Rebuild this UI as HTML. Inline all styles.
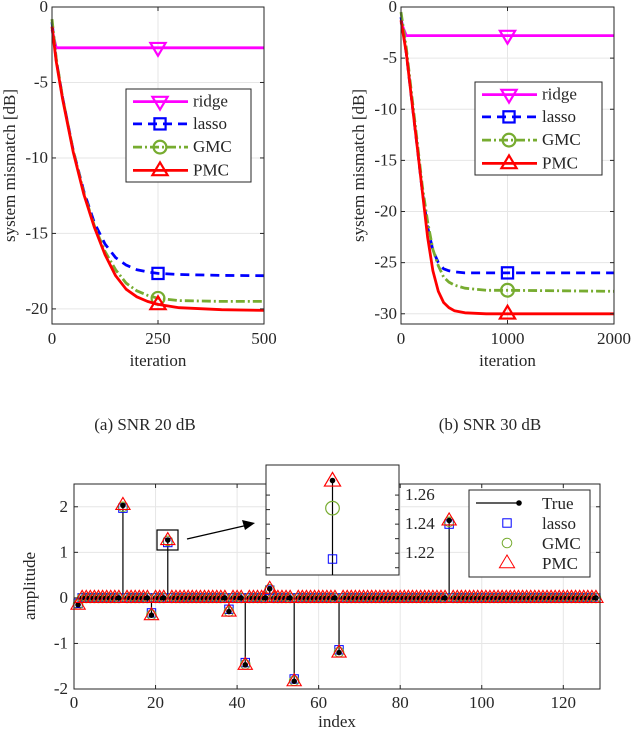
<!DOCTYPE html>
<html><head><meta charset="utf-8"><style>
body{margin:0;background:#fff}
svg{display:block;font-family:"Liberation Serif",serif}
text{fill:#262626}
</style></head><body>
<svg id="fig" width="632" height="732" viewBox="0 0 632 732">
<text x="145" y="430" font-size="17" text-anchor="middle">(a)  SNR 20 dB</text>
<text x="490" y="430" font-size="17" text-anchor="middle">(b)  SNR 30 dB</text>
</svg>
<script>
// ---- data: chart (a) SNR 20 dB ----
const itA = [0,10,25,50,75,100,125,150,175,200,225,250,300,400,500];
const ridgeA = [-1.5,-2.7,-2.7,-2.7,-2.7,-2.7,-2.7,-2.7,-2.7,-2.7,-2.7,-2.7,-2.7,-2.7,-2.7];
const lassoA = [-1,-3.5,-6,-9.5,-12.2,-14.3,-15.7,-16.6,-17.1,-17.4,-17.55,-17.65,-17.72,-17.78,-17.8];
const gmcA = [-0.8,-3.4,-6,-9.5,-12.3,-14.5,-16.2,-17.4,-18.3,-18.8,-19.1,-19.3,-19.45,-19.5,-19.5];
const pmcA = [-1.3,-3.6,-6.1,-9.6,-12.4,-14.6,-16.4,-17.8,-18.7,-19.2,-19.5,-19.7,-19.92,-20.05,-20.1];
const ticksXA = [0,250,500];
const ticksYA = [0,-5,-10,-15,-20];
// ---- data: chart (b) SNR 30 dB ----
const itB = [0,50,100,150,200,250,300,350,400,450,500,600,800,1000,2000];
const ridgeB = [-1.5,-2.8,-2.8,-2.8,-2.8,-2.8,-2.8,-2.8,-2.8,-2.8,-2.8,-2.8,-2.8,-2.8,-2.8];
const lassoB = [-1,-4.5,-9,-13.5,-18,-21.5,-23.8,-25,-25.6,-25.8,-25.9,-26,-26,-26,-26];
const gmcB = [-0.5,-4,-8.5,-13,-17.5,-21,-23.7,-25.3,-26.4,-26.9,-27.2,-27.5,-27.7,-27.7,-27.8];
const pmcB = [-1.3,-4.5,-9,-13.5,-18,-22.5,-25.8,-27.8,-28.9,-29.4,-29.7,-29.9,-30,-30,-30];
const ticksXB = [0,1000,2000];
const ticksYB = [0,-5,-10,-15,-20,-25,-30];
// ---- data: chart (c) sparse signal ----
const spikeIdx = [1,12,19,23,38,42,48,54,65,92];
const trueVals = [-0.15,2.03,-0.38,1.27,-0.3,-1.47,0.2,-1.83,-1.2,1.7];
const lassoVals = [-0.12,1.97,-0.33,1.216,-0.25,-1.42,0.17,-1.78,-1.14,1.62];
const gmcVals = [-0.14,2.0,-0.37,1.251,-0.3,-1.46,0.19,-1.82,-1.19,1.67];
const pmcVals = [-0.15,2.04,-0.38,1.2697,-0.3,-1.47,0.2,-1.83,-1.2,1.7];
const ticksXC = [0,20,40,60,80,100,120];
const ticksYC = [2,1,0,-1,-2];
const ticksInset = [1.26,1.24,1.22];

const NS='http://www.w3.org/2000/svg';
const svg=document.getElementById('fig');
function mk(tag,attrs,parent){const e=document.createElementNS(NS,tag);for(const k in attrs)e.setAttribute(k,attrs[k]);(parent||svg).appendChild(e);return e;}
function lin(d0,d1,r0,r1){return v=>r0+(v-d0)*(r1-r0)/(d1-d0);}

const COL={ridge:'#ff00ff',lasso:'#0000ff',gmc:'#77ac30',pmc:'#ff0000'};

function marker(kind,x,y,s,color,sw,parent){
  let e;
  if(kind==='tri'){e=mk('polygon',{points:`${x},${y-s} ${x-s*0.95},${y+s*0.6} ${x+s*0.95},${y+s*0.6}`},parent);}
  else if(kind==='trid'){e=mk('polygon',{points:`${x},${y+s} ${x-s*0.95},${y-s*0.6} ${x+s*0.95},${y-s*0.6}`},parent);}
  else if(kind==='sq'){e=mk('rect',{x:x-s*0.7,y:y-s*0.7,width:s*1.4,height:s*1.4},parent);}
  else {e=mk('circle',{cx:x,cy:y,r:s*0.8},parent);}
  e.setAttribute('fill','none');e.setAttribute('stroke',color);e.setAttribute('stroke-width',sw);
  return e;
}

function convChart(cfg){
  const g=mk('g',{});
  
  
  const X=lin(cfg.xlim[0],cfg.xlim[1],cfg.L,cfg.R), Y=lin(cfg.ylim[0],cfg.ylim[1],cfg.B,cfg.T);
  cfg.tx.forEach(t=>{const l=mk('line',{x1:X(t),x2:X(t),y1:cfg.T,y2:cfg.B,stroke:'#e6e6e6','stroke-width':1},g);});
  cfg.ty.forEach(t=>{const l=mk('line',{x1:cfg.L,x2:cfg.R,y1:Y(t),y2:Y(t),stroke:'#e6e6e6','stroke-width':1},g);});
  const series=[['ridge',cfg.ridge,'',2.8,'trid'],['lasso',cfg.lasso,'9,6',2.8,'sq'],['gmc',cfg.gmc,'9,3,2,3',2.8,'circ'],['pmc',cfg.pmc,'',2.8,'tri']];
  series.forEach(([n,vals,da,w,mkind])=>{
    const d=vals.map((v,i)=>(i?'L':'M')+X(cfg.it[i]).toFixed(1)+','+Y(v).toFixed(1)).join('');
    const p=mk('path',{d:d,fill:'none',stroke:COL[n],'stroke-width':w,'stroke-dasharray':da,'stroke-linejoin':'round'},g);
    
    
    const mi=cfg.it.indexOf(cfg.mx);
    const m=marker(mkind,X(cfg.mx),Y(vals[mi]),8,COL[n],2.2,g);
    
    
  });
  const box=mk('rect',{x:cfg.L,y:cfg.T,width:cfg.R-cfg.L,height:cfg.B-cfg.T,fill:'none',stroke:'#262626','stroke-width':1},g);
  
  
  cfg.tx.forEach(t=>{mk('line',{x1:X(t),x2:X(t),y1:cfg.B,y2:cfg.B-4,stroke:'#262626'},g);mk('line',{x1:X(t),x2:X(t),y1:cfg.T,y2:cfg.T+4,stroke:'#262626'},g);
    const tt=mk('text',{x:X(t),y:cfg.B+20,'font-size':17,'text-anchor':'middle'},g);tt.textContent=t;
    });
  cfg.ty.forEach(t=>{mk('line',{x1:cfg.L,x2:cfg.L+4,y1:Y(t),y2:Y(t),stroke:'#262626'},g);mk('line',{x1:cfg.R,x2:cfg.R-4,y1:Y(t),y2:Y(t),stroke:'#262626'},g);
    const tt=mk('text',{x:cfg.L-4,y:Y(t)+5,'font-size':17,'text-anchor':'end'},g);tt.textContent=t;
    });
  const xl=mk('text',{x:(cfg.L+cfg.R)/2,y:cfg.B+42,'font-size':17,'text-anchor':'middle'},g);xl.textContent='iteration';
  
  const cy=(cfg.T+cfg.B)/2;
  const yl=mk('text',{x:cfg.L-37,y:cy,'font-size':17,'text-anchor':'middle',transform:`rotate(-90 ${cfg.L-37} ${cy})`},g);yl.textContent='system mismatch [dB]';
  
  const lg=mk('g',{},g);
  
  
  const [lx,ly,lw,lh]=cfg.leg;
  mk('rect',{x:lx,y:ly,width:lw,height:lh,fill:'#fff',stroke:'#262626','stroke-width':1},lg);
  const labels=['ridge','lasso','GMC','PMC'];
  series.forEach(([n,,da,w,mkind],i)=>{
    const yy=ly+lh*(i+0.5)/4+(i===0?1:0);
    mk('line',{x1:lx+7,x2:lx+62,y1:yy,y2:yy,stroke:COL[n],'stroke-width':w,'stroke-dasharray':da},lg);
    marker(mkind,lx+34,yy,8,COL[n],2.2,lg);
    const t=mk('text',{x:lx+67,y:yy+5,'font-size':17},lg);t.textContent=labels[i];
    
  });
}

convChart({name:'chart-snr20',L:52,R:264,T:7,B:324,xlim:[0,500],ylim:[-21,0],tx:ticksXA,ty:ticksYA,it:itA,ridge:ridgeA,lasso:lassoA,gmc:gmcA,pmc:pmcA,mx:250,leg:[126,89,125,93]});
convChart({name:'chart-snr30',L:401,R:614,T:7,B:324,xlim:[0,2000],ylim:[-31,0],tx:ticksXB,ty:ticksYB,it:itB,ridge:ridgeB,lasso:lassoB,gmc:gmcB,pmc:pmcB,mx:1000,leg:[475,82,127,93]});

// ---- chart (c) ----
(function(){
  const L=74,R=600,T=484,B=689;
  const g=mk('g',{});
  
  
  const X=lin(0,129,L,R),Y=lin(-2,2.5,B,T);
  ticksXC.forEach(t=>mk('line',{x1:X(t),x2:X(t),y1:T,y2:B,stroke:'#e6e6e6'},g));
  ticksYC.forEach(t=>mk('line',{x1:L,x2:R,y1:Y(t),y2:Y(t),stroke:'#e6e6e6'},g));
  const valAt=(arr,i)=>{const k=spikeIdx.indexOf(i);return k<0?0:arr[k];};
  for(let i=1;i<=128;i++){
    const x=X(i);
    const tv=valAt(trueVals,i);
    if(tv!==0){const s=mk('line',{x1:x,x2:x,y1:Y(0),y2:Y(tv),stroke:'#000','stroke-width':1.2},g);}
    const a=marker('sq',x,Y(valAt(lassoVals,i)),6,'#0000ff',1,g);
    
    const b=marker('circ',x,Y(valAt(gmcVals,i)),6,'#77ac30',1,g);
    
    const c=marker('tri',x,Y(valAt(pmcVals,i)),7.5,'#ff0000',1.1,g);
    
    const d=mk('circle',{cx:x,cy:Y(tv),r:2.8,fill:'#000'},g);
    
  }
  mk('rect',{x:L,y:T,width:R-L,height:B-T,fill:'none',stroke:'#262626'},g);
  ticksXC.forEach(t=>{mk('line',{x1:X(t),x2:X(t),y1:B,y2:B-4,stroke:'#262626'},g);mk('line',{x1:X(t),x2:X(t),y1:T,y2:T+4,stroke:'#262626'},g);
    const tt=mk('text',{x:X(t),y:B+19,'font-size':17,'text-anchor':'middle'},g);tt.textContent=t;
    });
  ticksYC.forEach(t=>{mk('line',{x1:L,x2:L+4,y1:Y(t),y2:Y(t),stroke:'#262626'},g);mk('line',{x1:R,x2:R-4,y1:Y(t),y2:Y(t),stroke:'#262626'},g);
    const tt=mk('text',{x:L-6,y:Y(t)+5,'font-size':17,'text-anchor':'end'},g);tt.textContent=t;
    });
  const xl=mk('text',{x:(L+R)/2,y:727,'font-size':17,'text-anchor':'middle'},g);xl.textContent='index';
  
  const yl=mk('text',{x:35,y:586,'font-size':17,'text-anchor':'middle',transform:'rotate(-90 35 586)'},g);yl.textContent='amplitude';
  
  const zb=mk('rect',{x:157,y:530,width:21,height:20,fill:'none',stroke:'#000','stroke-width':1.2},g);
  
  const ar=mk('line',{x1:187,y1:539,x2:248,y2:525,stroke:'#000','stroke-width':1.3},g);
  
  mk('polygon',{points:'255,523 242,520 245,530',fill:'#000'},g);
  const IL=266,IR=399,IT=465,IB=575;
  const ig=mk('g',{},g);
  
  
  const IX=lin(22.6,23.4,IL,IR),IY=lin(1.205,1.2807,IB,IT);
  mk('rect',{x:IL,y:IT,width:IR-IL,height:IB-IT,fill:'#fff',stroke:'#262626'},ig);
  const k=spikeIdx.indexOf(23);
  mk('line',{x1:IX(23),x2:IX(23),y1:IB,y2:IY(trueVals[k]),stroke:'#000','stroke-width':1.2},ig);
  marker('sq',IX(23),IY(lassoVals[k]),6,'#0000ff',1,ig);
  marker('circ',IX(23),IY(gmcVals[k]),8.5,'#77ac30',1.2,ig);
  marker('tri',IX(23),IY(pmcVals[k]),8.5,'#ff0000',1.2,ig);
  mk('circle',{cx:IX(23),cy:IY(trueVals[k]),r:2.8,fill:'#000'},ig);
  ticksInset.concat([1.25,1.23,1.21]).forEach(t=>{mk('line',{x1:IR,x2:IR-4,y1:IY(t),y2:IY(t),stroke:'#262626'},ig);mk('line',{x1:IL,x2:IL+4,y1:IY(t),y2:IY(t),stroke:'#262626'},ig);});
  ticksInset.forEach(t=>{const tt=mk('text',{x:IR+6,y:IY(t)+5,'font-size':17},ig);tt.textContent=t.toFixed(2);
    });
  const lg=mk('g',{},g);
  
  
  mk('rect',{x:469,y:490,width:121,height:87,fill:'#fff',stroke:'#262626'},lg);
  const rows=[503,523,543,563];
  mk('line',{x1:476,x2:520,y1:rows[0],y2:rows[0],stroke:'#000','stroke-width':1.2},lg);
  mk('circle',{cx:519,cy:rows[0],r:2.8,fill:'#000'},lg);
  marker('sq',507,rows[1],6,'#0000ff',1,lg);
  marker('circ',507,rows[2],6,'#77ac30',1,lg);
  marker('tri',507,rows[3],8,'#ff0000',1,lg);
  ['True','lasso','GMC','PMC'].forEach((s,i)=>{const t=mk('text',{x:542,y:rows[i]+6,'font-size':17},lg);t.textContent=s;
    });
})();
</script>
</body></html>
